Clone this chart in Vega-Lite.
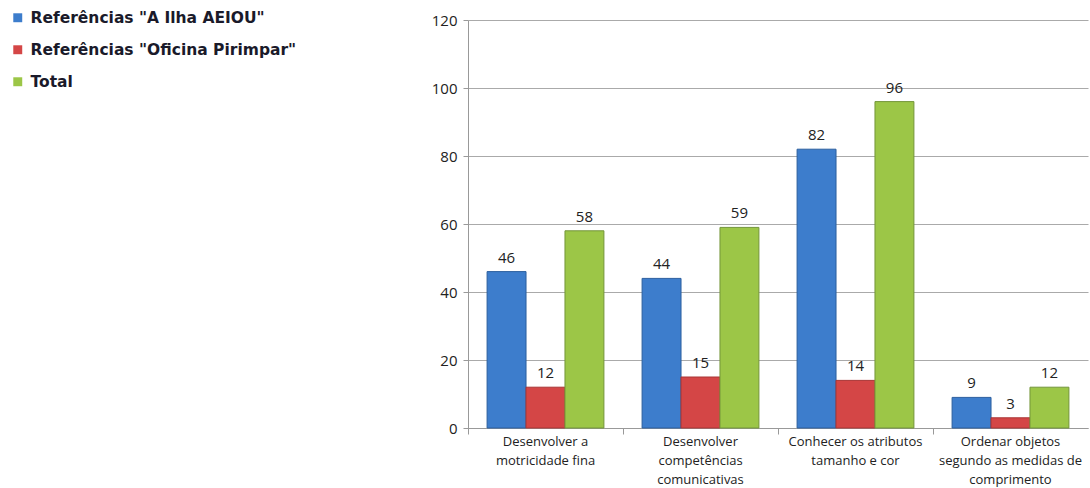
{
  "$schema": "https://vega.github.io/schema/vega-lite/v6.json",
  "width": 620,
  "height": 408,
  "autosize": "none",
  "padding": {"left": 468, "top": 20, "right": 2, "bottom": 60},
  "background": "white",
  "config": {
    "view": {"stroke": null},
    "font": "Open Sans",
    "axis": {"labelFont": "Open Sans", "labelColor": "#222222"},
    "legend": {"labelFont": "DejaVu Sans"}
  },
  "data": {
    "values": [
      {"categoria": "Desenvolver a motricidade fina", "serie": "Referências \"A Ilha AEIOU\"", "valor": 46},
      {"categoria": "Desenvolver a motricidade fina", "serie": "Referências \"Oficina Pirimpar\"", "valor": 12},
      {"categoria": "Desenvolver a motricidade fina", "serie": "Total", "valor": 58},
      {"categoria": "Desenvolver competências comunicativas", "serie": "Referências \"A Ilha AEIOU\"", "valor": 44},
      {"categoria": "Desenvolver competências comunicativas", "serie": "Referências \"Oficina Pirimpar\"", "valor": 15},
      {"categoria": "Desenvolver competências comunicativas", "serie": "Total", "valor": 59},
      {"categoria": "Conhecer os atributos tamanho e cor", "serie": "Referências \"A Ilha AEIOU\"", "valor": 82},
      {"categoria": "Conhecer os atributos tamanho e cor", "serie": "Referências \"Oficina Pirimpar\"", "valor": 14},
      {"categoria": "Conhecer os atributos tamanho e cor", "serie": "Total", "valor": 96},
      {"categoria": "Ordenar objetos segundo as medidas de comprimento", "serie": "Referências \"A Ilha AEIOU\"", "valor": 9},
      {"categoria": "Ordenar objetos segundo as medidas de comprimento", "serie": "Referências \"Oficina Pirimpar\"", "valor": 3},
      {"categoria": "Ordenar objetos segundo as medidas de comprimento", "serie": "Total", "valor": 12}
    ]
  },
  "encoding": {
    "x": {
      "field": "categoria",
      "type": "nominal",
      "sort": ["Desenvolver a motricidade fina", "Desenvolver competências comunicativas", "Conhecer os atributos tamanho e cor", "Ordenar objetos segundo as medidas de comprimento"],
      "scale": {"paddingInner": 0, "paddingOuter": 0},
      "axis": {
        "title": null,
        "labelAngle": 0,
        "labelFontSize": 13,
        "labelLineHeight": 19,
        "labelPadding": 1,
        "labelBaseline": "top",
        "tickSize": 6,
        "tickColor": "#999999",
        "domainColor": "#999999",
        "bandPosition": 0,
        "labelExpr": "datum.value == 'Desenvolver a motricidade fina' ? ['Desenvolver a', 'motricidade fina'] : datum.value == 'Desenvolver competências comunicativas' ? ['Desenvolver', 'competências', 'comunicativas'] : datum.value == 'Conhecer os atributos tamanho e cor' ? ['Conhecer os atributos', 'tamanho e cor'] : ['Ordenar objetos', 'segundo as medidas de', 'comprimento']"
      }
    },
    "xOffset": {
      "field": "serie",
      "type": "nominal",
      "sort": ["Referências \"A Ilha AEIOU\"", "Referências \"Oficina Pirimpar\"", "Total"],
      "scale": {"paddingInner": 0, "paddingOuter": 0.49}
    },
    "y": {
      "field": "valor",
      "type": "quantitative",
      "scale": {"domain": [0, 120], "nice": false},
      "axis": {
        "title": null,
        "values": [0, 20, 40, 60, 80, 100, 120],
        "labelFontSize": 15,
        "labelPadding": 6,
        "tickSize": 5,
        "tickColor": "#999999",
        "domainColor": "#999999",
        "gridColor": "#aaaaaa",
        "gridWidth": 1
      }
    }
  },
  "layer": [
    {
      "mark": {"type": "bar", "strokeWidth": 1},
      "encoding": {
        "color": {
          "field": "serie",
          "type": "nominal",
          "sort": ["Referências \"A Ilha AEIOU\"", "Referências \"Oficina Pirimpar\"", "Total"],
          "scale": {
            "domain": ["Referências \"A Ilha AEIOU\"", "Referências \"Oficina Pirimpar\"", "Total"],
            "range": ["#3d7dcc", "#d44646", "#9cc647"]
          },
          "legend": {
            "title": null,
            "orient": "none",
            "legendX": -458,
            "legendY": -10,
            "symbolType": "square",
            "symbolSize": 80,
            "symbolStrokeWidth": 0,
            "labelFontSize": 15.5,
            "labelFontWeight": "bold",
            "labelColor": "#1a1a2a",
            "labelLimit": 0,
            "rowPadding": 15,
            "labelOffset": 5
          }
        },
        "stroke": {
          "field": "serie",
          "type": "nominal",
          "scale": {
            "domain": ["Referências \"A Ilha AEIOU\"", "Referências \"Oficina Pirimpar\"", "Total"],
            "range": ["#2c5f9e", "#a83434", "#73953a"]
          },
          "legend": null
        }
      }
    },
    {
      "mark": {"type": "text", "baseline": "bottom", "dy": -6, "fontSize": 15, "color": "#222222"},
      "encoding": {
        "text": {"field": "valor", "type": "quantitative"}
      }
    }
  ]
}
